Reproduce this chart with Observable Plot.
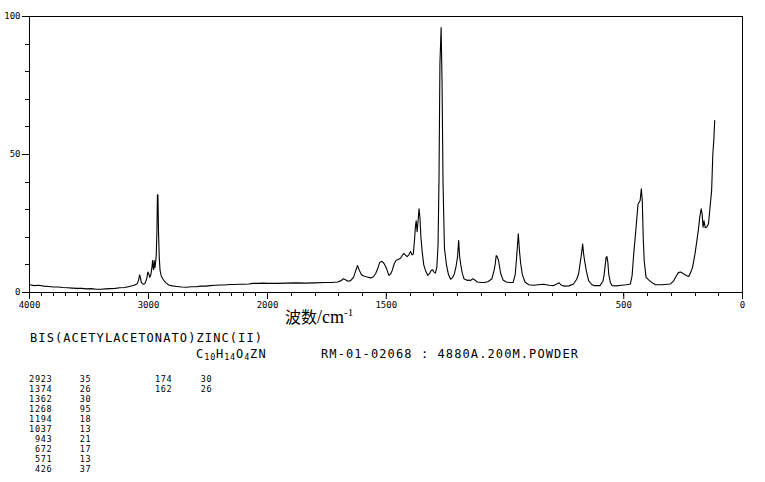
<!DOCTYPE html>
<html><head><meta charset="utf-8">
<script src="https://cdn.jsdelivr.net/npm/d3@7"></script>
<script src="https://cdn.jsdelivr.net/npm/@observablehq/plot@0.6"></script>
<style>
body{margin:0;background:#fff;}
#wrap{position:relative;width:765px;height:482px;overflow:hidden;background:#fff;}
#wrap svg.over{position:absolute;left:0;top:0;pointer-events:none;}
</style></head><body><div id="wrap"></div>
<script>
// Raman spectrum (wavenumber cm-1, relative intensity)
const wavenumber = [4000,3960,3920,3880,3840,3800,3760,3720,3680,3640,3600,3560,3520,3480,3440,3400,3360,3320,3280,3240,3200,3160,3120,3095,3083,3075,3068,3060,3045,3030,3015,3005,2998,2990,2980,2970,2966,2961,2957,2952,2946,2940,2935,2929,2925,2921,2916,2910,2903,2893,2880,2865,2850,2830,2800,2760,2720,2680,2640,2600,2560,2520,2480,2440,2400,2360,2320,2280,2240,2200,2160,2120,2080,2040,2000,1960,1920,1880,1840,1800,1760,1730,1705,1690,1680,1672,1660,1650,1638,1628,1621,1614,1605,1595,1580,1566,1555,1545,1535,1527,1518,1510,1503,1496,1489,1481,1475,1466,1459,1450,1440,1432,1426,1419,1412,1405,1398,1391,1386,1381,1377,1374,1370,1366,1362,1358,1354,1349,1342,1335,1325,1318,1311,1305,1299,1293,1287,1282,1278,1274,1269,1265,1261,1255,1246,1238,1229,1220,1213,1206,1200,1195,1191,1186,1180,1173,1160,1150,1145,1136,1128,1117,1100,1085,1070,1055,1046,1041,1037,1032,1027,1018,1008,995,980,966,957,951,944,939,934,927,916,900,880,860,837,815,795,780,772,762,750,730,712,698,690,683,678,673,669,665,658,648,635,626,600,588,583,578,574,571,567,563,556,549,530,510,490,472,465,458,448,440,431,426,422,418,414,406,395,380,366,340,303,290,282,270,261,252,242,232,226,215,210,200,194,186,180,174,170,166,162,157,150,143,138,130,125,121,117];
const intensity = [2.8,2.5,2.6,2.3,2.2,2.0,2.0,1.8,1.7,1.6,1.5,1.5,1.3,1.4,1.2,1.2,1.3,1.4,1.5,1.7,1.8,2.2,2.6,3.2,4.5,6.4,5.5,3.6,3.0,3.2,5.0,7.4,6.8,5.5,6.5,9.5,11.6,9.0,8.3,11.6,9.0,11.0,13.5,22.5,35.4,35.4,22.5,13,8.0,6.0,5.0,4.0,3.4,2.7,2.4,2.2,2.0,1.9,2.1,2.1,2.3,2.3,2.5,2.6,2.7,2.7,2.9,2.9,3.0,3.0,3.1,3.3,3.3,3.4,3.3,3.3,3.4,3.5,3.4,3.5,3.6,3.6,3.8,4.3,5.0,4.6,4.1,4.3,5.5,8.0,9.8,8.2,6.5,6.0,5.6,5.3,5.6,6.8,8.9,11.0,11.3,10.6,9.5,8.0,6.2,6.8,8.0,10.5,11.6,12.0,12.4,13.5,14.2,13.5,13.0,13.6,14.9,13.6,14.0,19,24,26,22,26,30.3,27,20,15,10,8.0,6.2,6.8,8.0,8.2,7.4,7.0,9.2,17,40,83,96,76,40,16,9.8,6.5,4.8,5.5,6.8,9.5,12.8,18.8,13,10,7.0,5.0,4.4,4.5,4.3,5.0,4.6,3.8,3.6,3.6,4.0,5.0,8.0,10.4,13.4,12.8,11.5,6.8,4.5,3.8,3.6,3.6,6.5,12.8,21.3,15,10.5,6.5,3.8,2.8,2.6,2.8,3.0,2.6,2.5,3.2,3.5,2.6,2.3,2.4,3.1,4.8,6.8,11,14,17.6,14,11.6,8.0,4.3,2.9,2.5,2.5,4.0,6.2,10,12.8,13,11,6.5,3.5,2.5,2.4,2.6,2.8,3.1,6,14,23.7,32,33.3,37.6,33.3,20,11.6,5.5,4.6,3.5,2.8,2.8,3.1,4.2,5.5,7.2,7.4,7.0,6.4,6.0,5.8,8.0,9.2,14,17.6,22.5,27.3,30.3,28.5,23.7,26,23.5,23.7,25,29.7,37,50,55,62.3];

// axis ticks
const xMajorTicks = [4000, 3000, 2000, 1500, 500, 0];
const yMajorTicks = [0, 50, 100];
const xMinorTicks = d3.range(0, 4001, 100);
const yMinorTicks = d3.range(0, 101, 10);

// texts
const xTitleCJK = "波数";
const xTitleUnit = "/cm";
const xTitleSup = "-1";
const compoundName = "BIS(ACETYLACETONATO)ZINC(II)";
const formulaParts = [["C", false], ["10", true], ["H", false], ["14", true], ["O", false], ["4", true], ["ZN", false]];
const sampleInfo = "RM-01-02068 : 4880A.200M.POWDER";

// peak table
const peakWavenumbers1 = [2923, 1374, 1362, 1268, 1194, 1037, 943, 672, 571, 426];
const peakIntensities1 = [35, 26, 30, 95, 18, 13, 21, 17, 13, 37];
const peakWavenumbers2 = [174, 162];
const peakIntensities2 = [30, 26];

const spectrum = wavenumber.map((w, i) => ({w, v: intensity[i]}));

const chart = Plot.plot({
  width: 765, height: 325,
  marginLeft: 29, marginRight: 23, marginTop: 16, marginBottom: 33,
  style: {fontFamily: "DejaVu Sans Mono", fontSize: "9px", background: "white", color: "black"},
  x: {type: "linear", domain: [4000, 2000, 0], range: [29, 267, 742], ticks: xMajorTicks,
      tickFormat: d => String(d), tickSize: 7, tickPadding: 2, label: null},
  y: {domain: [0, 100], ticks: yMajorTicks, tickFormat: d => String(d), tickSize: 7, tickPadding: 2, label: null},
  marks: [
    Plot.line(spectrum, {x: "w", y: "v", stroke: "black", strokeWidth: 1.1}),
    Plot.frame({stroke: "black", shapeRendering: "crispEdges"}),
    // minor ticks: short outward rules just outside the frame
    Plot.ruleX(xMinorTicks, {x: d => d, y1: 0, y2: -1.45, stroke: "black", strokeWidth: 1, shapeRendering: "crispEdges"}),
    Plot.ruleY(yMinorTicks, {y: d => d, x1: 4000, x2: 4030, stroke: "black", strokeWidth: 1, shapeRendering: "crispEdges"})
  ]
});
const wrap = document.getElementById("wrap");
wrap.appendChild(chart);

// text overlay
const svg = d3.select(wrap).append("svg").attr("class", "over")
  .attr("width", 765).attr("height", 482);

const xt = svg.append("text").attr("x", 285).attr("y", 323).attr("fill", "black");
xt.append("tspan").attr("font-family", "Noto Sans CJK SC").attr("font-size", 16).text(xTitleCJK);
xt.append("tspan").attr("font-family", "Liberation Serif").attr("font-size", 18).text(xTitleUnit);
xt.append("tspan").attr("font-family", "Liberation Serif").attr("font-size", 11).attr("dy", -7).text(xTitleSup);

const mono = "DejaVu Sans Mono";
svg.append("text").attr("x", 30).attr("y", 342).attr("font-family", mono).attr("font-size", 12)
  .attr("letter-spacing", 1.1).text(compoundName);

const ft = svg.append("text").attr("x", 196).attr("y", 357.5).attr("font-family", mono).attr("font-size", 12)
  .attr("letter-spacing", 1.1);
let shifted = false;
formulaParts.forEach(([s, sub]) => {
  const t = ft.append("tspan").text(s);
  if (sub) { t.attr("font-size", 8.5).attr("letter-spacing", 0.7); if (!shifted) { t.attr("dy", 2); shifted = true; } }
  else if (shifted) { t.attr("dy", -2); shifted = false; }
});

svg.append("text").attr("x", 321).attr("y", 357.5).attr("font-family", mono).attr("font-size", 12)
  .attr("letter-spacing", 1.1).text(sampleInfo);

function column(values, xRight) {
  values.forEach((v, i) => {
    svg.append("text").attr("x", xRight).attr("y", 381.7 + i * 10).attr("text-anchor", "end")
      .attr("font-family", mono).attr("font-size", 8.5).attr("letter-spacing", 0.7).text(String(v));
  });
}
column(peakWavenumbers1, 52.4);
column(peakIntensities1, 91.4);
column(peakWavenumbers2, 172.4);
column(peakIntensities2, 212.4);
</script></body></html>
